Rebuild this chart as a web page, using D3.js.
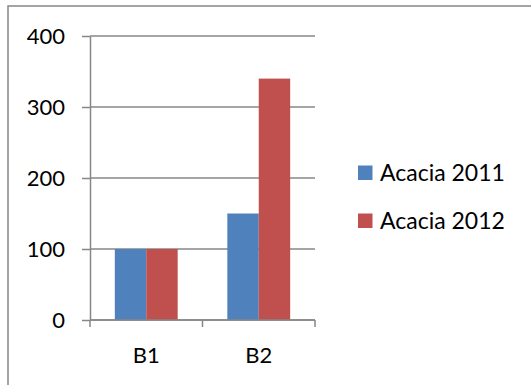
<!DOCTYPE html>
<html>
<head>
<meta charset="utf-8">
<script src="https://cdn.jsdelivr.net/npm/d3@7"></script>
<style>
  html, body { margin: 0; padding: 0; background: #fff; }
  svg { display: block; font-family: Lato, "Open Sans", sans-serif; }
</style>
</head>
<body>
<svg id="chart" width="531" height="385"></svg>
<script>
// Data
const categories = ["B1", "B2"];
const seriesNames = ["Acacia 2011", "Acacia 2012"];
const acacia2011 = [100, 150];
const acacia2012 = [100, 340];
const yTicks = [0, 100, 200, 300, 400];
const seriesColors = ["#4F81BD", "#C0504D"];

const seriesValues = [acacia2011, acacia2012];
const rows = categories.map((c, i) => ({
  category: c,
  values: seriesNames.map((s, j) => ({ series: s, value: seriesValues[j][i], idx: j }))
}));

const svg = d3.select("#chart");
const axisColor = "#878787";

// Outer frame
svg.append("rect")
  .attr("x", 8).attr("y", 6)
  .attr("width", 540).attr("height", 400)
  .attr("fill", "none")
  .attr("stroke", axisColor)
  .attr("stroke-width", 1.5);

const plot = { left: 90, right: 315, top: 36, bottom: 320 };

const x = d3.scaleBand()
  .domain(categories)
  .range([plot.left, plot.right])
  .paddingInner(0).paddingOuter(0);

// Two bars per category with a gap on either side
const inner = d3.scaleBand()
  .domain(seriesNames)
  .range([0, x.bandwidth()])
  .paddingInner(0)
  .paddingOuter(0.79);

const y = d3.scaleLinear()
  .domain([0, 400])
  .range([plot.bottom, plot.top]);

// Horizontal gridlines
svg.append("g")
  .selectAll("line")
  .data(yTicks)
  .join("line")
  .attr("x1", plot.left).attr("x2", plot.right)
  .attr("y1", d => y(d)).attr("y2", d => y(d))
  .attr("stroke", axisColor)
  .attr("stroke-width", 1.5);

// Bars
const groups = svg.append("g")
  .selectAll("g")
  .data(rows)
  .join("g")
  .attr("transform", d => `translate(${x(d.category)},0)`);

groups.selectAll("rect")
  .data(d => d.values)
  .join("rect")
  .attr("x", d => inner(d.series))
  .attr("y", d => y(d.value))
  .attr("width", inner.bandwidth())
  .attr("height", d => y(0) - y(d.value))
  .attr("fill", d => seriesColors[d.idx]);

// Y axis
const yAxis = svg.append("g")
  .attr("transform", `translate(${plot.left},0)`)
  .call(d3.axisLeft(y).tickValues(yTicks).tickSize(8).tickPadding(17).tickSizeOuter(0));
yAxis.select(".domain").attr("stroke", axisColor).attr("stroke-width", 1.5);
yAxis.selectAll(".tick line").attr("stroke", axisColor).attr("stroke-width", 1.5);
yAxis.selectAll(".tick text")
  .attr("fill", "#000")
  .style("font-size", "22px")
  .style("font-family", "Lato, 'Open Sans', sans-serif");

// X axis with tick marks at category boundaries
const xAxisG = svg.append("g")
  .attr("transform", `translate(0,${plot.bottom})`);
xAxisG.append("line")
  .attr("x1", plot.left).attr("x2", plot.right)
  .attr("stroke", axisColor).attr("stroke-width", 1.5);
const boundaries = categories.map(c => x(c)).concat([x(categories[categories.length - 1]) + x.bandwidth()]);
xAxisG.selectAll("line.tick")
  .data(boundaries)
  .join("line")
  .attr("class", "tick")
  .attr("x1", d => d).attr("x2", d => d)
  .attr("y1", 0).attr("y2", 7)
  .attr("stroke", axisColor).attr("stroke-width", 1.5);
xAxisG.selectAll("text")
  .data(categories)
  .join("text")
  .attr("x", d => x(d) + x.bandwidth() / 2)
  .attr("y", 43)
  .attr("text-anchor", "middle")
  .attr("fill", "#000")
  .style("font-size", "22px")
  .text(d => d);

// Legend
const legend = svg.append("g").attr("transform", "translate(358,165.5)");
const items = legend.selectAll("g")
  .data(seriesNames)
  .join("g")
  .attr("transform", (d, i) => `translate(0,${i * 48})`);
items.append("rect")
  .attr("width", 14.5).attr("height", 14.5)
  .attr("fill", (d, i) => seriesColors[i]);
items.append("text")
  .attr("x", 22).attr("y", 15)
  .attr("fill", "#000")
  .style("font-size", "23px")
  .text(d => d);
</script>
</body>
</html>
